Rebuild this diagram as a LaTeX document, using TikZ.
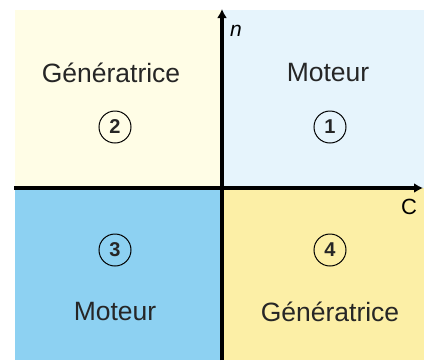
\documentclass[tikz,border=0pt]{standalone}
\usepackage{fontspec}
\setmainfont{Liberation Sans}
\usetikzlibrary{arrows.meta}
\definecolor{qone}{HTML}{E6F4FC}
\definecolor{qtwo}{HTML}{FFFDE6}
\definecolor{qthree}{HTML}{8DD1F2}
\definecolor{qfour}{HTML}{FCEFA6}
\definecolor{inktext}{HTML}{262626}
\begin{document}
\begin{tikzpicture}[x=1pt,y=-1pt,
  lbl/.style={text=inktext,font=\fontsize{26.5}{30}\selectfont,inner sep=0pt},
  num/.style={circle,draw=black,line width=1pt,minimum size=32pt,inner sep=0pt,
    font=\fontsize{20}{24}\selectfont\bfseries,text=inktext},
  axisline/.style={line width=3.8pt},
  axis/.style={axisline,-{Latex[length=9pt,width=10pt]}}]
\useasboundingbox (0,0) rectangle (424,360);
\fill[white] (0,0) rectangle (424,360);
% quadrants
\fill[qtwo]   (15,10)  rectangle (222,188);
\fill[qone]   (222,10) rectangle (424,188);
\fill[qthree] (15,188) rectangle (222,360);
\fill[qfour]  (222,188) rectangle (424,360);
% axes
\coordinate (O) at (222,188);
\coordinate (xl) at (14,188);
\coordinate (xr) at (423,188);
\coordinate (yb) at (222,360);
\coordinate (yt) at (222,9);
\draw[axisline] (xl) -- (O);
\draw[axis] (O) -- (xr);
\draw[axisline] (yb) -- (O);
\draw[axis] (O) -- (yt);
\node[lbl,font=\fontsize{21}{24}\selectfont\itshape,text=black] (n) at (236,31) {n};
\node[lbl,font=\fontsize{22}{24}\selectfont,text=black] (c) at (409,207) {C};
% quadrant labels
\node[lbl] (g2) at (111,73) {Génératrice};
\node[num] (q2) at (115,127) {2};
\node[lbl] (m1) at (328,73) {Moteur};
\node[num] (q1) at (330,127) {1};
\node[num] (q3) at (115,250) {3};
\node[lbl] (m3) at (115,312) {Moteur};
\node[num] (q4) at (330,250) {4};
\node[lbl] (g4) at (330,312) {Génératrice};
\end{tikzpicture}
\end{document}
